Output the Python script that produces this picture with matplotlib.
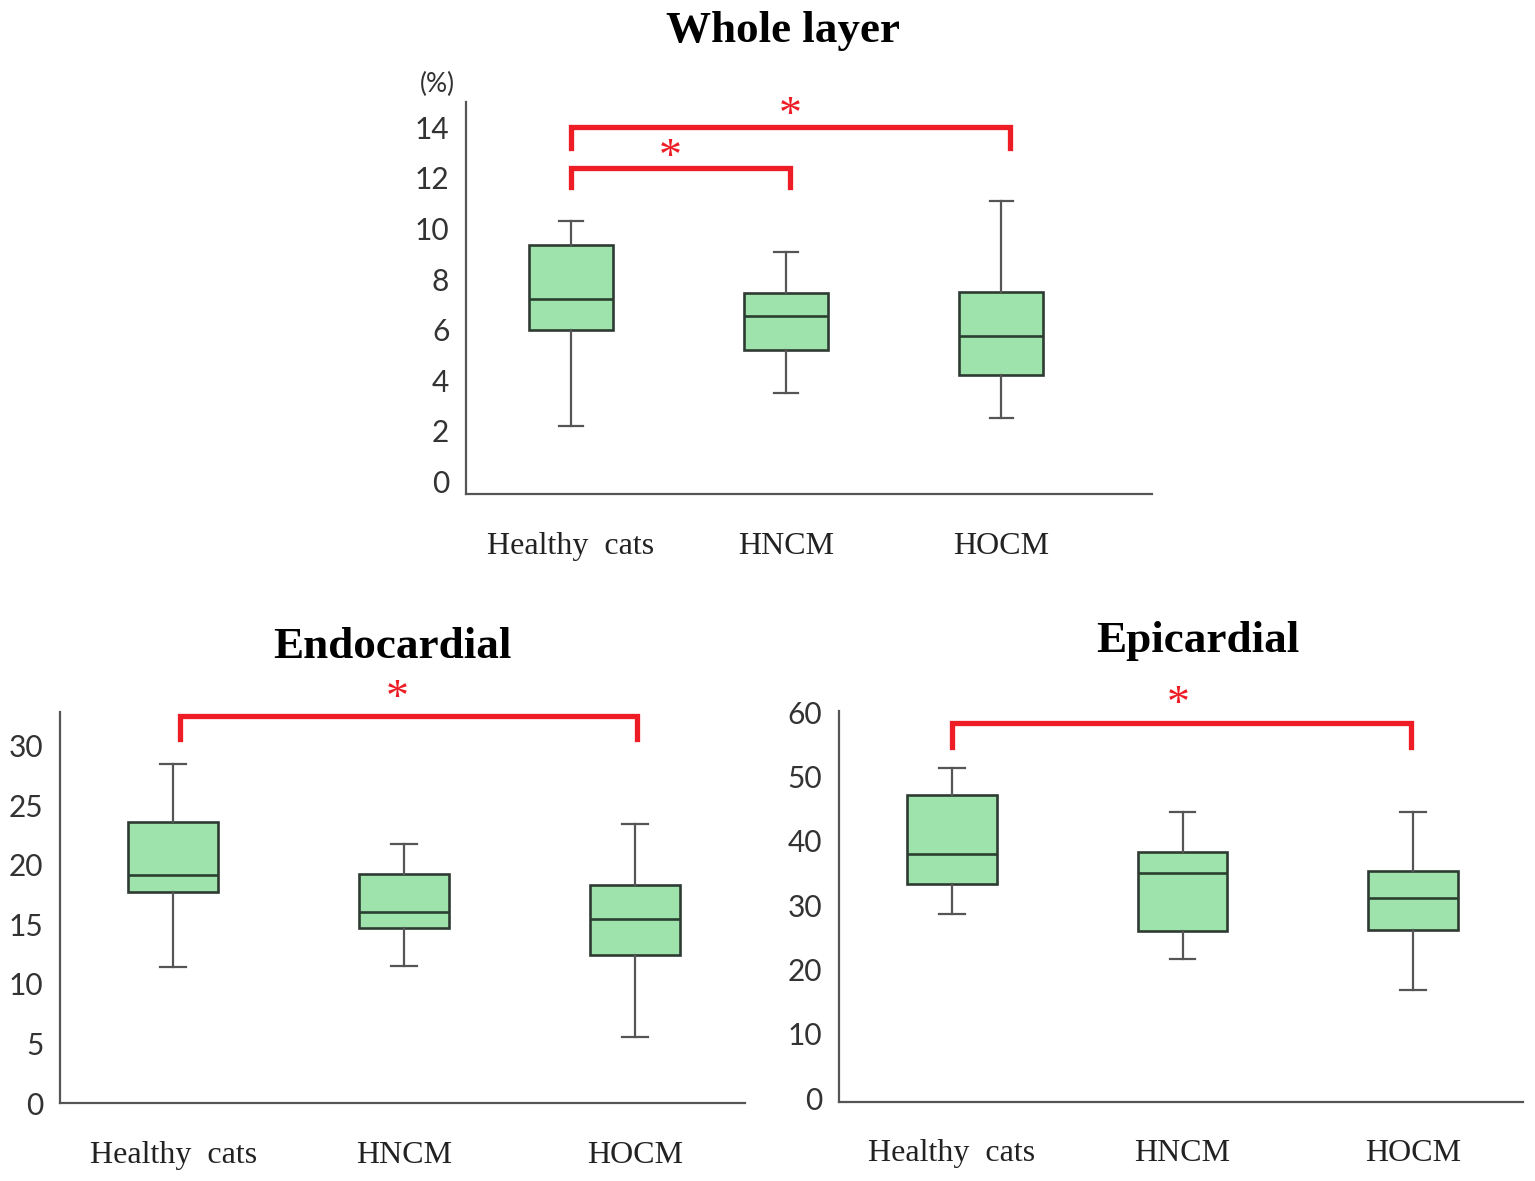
import numpy as np
import matplotlib.pyplot as plt

# group names
groups = ['Healthy  cats', 'HNCM', 'HOCM']

# box stats per panel: whisker low, Q1, median, Q3, whisker high
whole_low = [2.2, 3.5, 2.5]
whole_q1 = [6.0, 5.2, 4.2]
whole_med = [7.2, 6.55, 5.75]
whole_q3 = [9.33, 7.46, 7.5]
whole_high = [10.3, 9.06, 11.08]

endo_low = [11.4, 11.5, 5.5]
endo_q1 = [17.7, 14.7, 12.4]
endo_med = [19.1, 16.0, 15.4]
endo_q3 = [23.6, 19.2, 18.3]
endo_high = [28.4, 21.7, 23.4]

epi_low = [28.6, 21.6, 16.8]
epi_q1 = [33.3, 26.0, 26.1]
epi_med = [37.9, 35.0, 31.1]
epi_q3 = [47.1, 38.3, 35.3]
epi_high = [51.3, 44.5, 44.5]

whole_ticks = [0, 2, 4, 6, 8, 10, 12, 14]
endo_ticks = [0, 5, 10, 15, 20, 25, 30]
epi_ticks = [0, 10, 20, 30, 40, 50, 60]

# significance brackets: (x_left, x_right, top, leg, star_x, star_y)
whole_brackets = [(0.0, 2.04, 14.0, 13.2, 1.02, 14.42),
                  (0.0, 1.02, 12.4, 11.65, 0.46, 12.75)]
endo_brackets = [(0.03, 2.01, 32.5, 30.5, 0.97, 33.85)]
epi_brackets = [(0.0, 1.99, 58.3, 54.6, 0.98, 61.0)]

red = '#ee1c24'
green = '#9ee3ab'
tickfont = 'Lato'
serif = 'Liberation Serif'


def draw_panel(ax, low, q1, med, q3, high, ticks, ylim, xlim, brackets):
    stats = []
    for i in range(len(groups)):
        stats.append({'whislo': low[i], 'q1': q1[i], 'med': med[i],
                      'q3': q3[i], 'whishi': high[i], 'fliers': []})
    ax.bxp(stats, positions=range(len(groups)), widths=0.39, capwidths=0.11,
           patch_artist=True, showfliers=False,
           boxprops=dict(facecolor=green, edgecolor='#2e3b33', linewidth=1.9),
           medianprops=dict(color='#2a3f30', linewidth=1.9),
           whiskerprops=dict(color='#555555', linewidth=1.6),
           capprops=dict(color='#555555', linewidth=1.6))
    ax.set_ylim(ylim)
    ax.set_xlim(xlim)
    ax.set_yticks(ticks)
    ax.set_yticklabels([str(t) for t in ticks], fontsize=21.5,
                       family=tickfont, color='#333333')
    ax.set_xticks(range(len(groups)))
    ax.set_xticklabels(groups, fontsize=23, family=serif, color='#222222')
    ax.tick_params(axis='y', length=0, pad=12)
    ax.tick_params(axis='x', length=0, pad=27)
    for s in ['top', 'right']:
        ax.spines[s].set_visible(False)
    for s in ['left', 'bottom']:
        ax.spines[s].set_color('#555555')
        ax.spines[s].set_linewidth(1.6)
    for x0, x1, top, leg, sx, sy in brackets:
        ax.plot([x0, x0, x1, x1], [leg, top, top, leg], color=red,
                linewidth=3.8, clip_on=False, solid_joinstyle='miter')
        ax.text(sx, sy, '*', color=red, fontsize=33, family=serif,
                ha='center', va='center')


fig = plt.figure(figsize=(15.35, 11.81), dpi=100)

ax1 = fig.add_axes([0.3036, 0.5817, 0.4469, 0.3319])
draw_panel(ax1, whole_low, whole_q1, whole_med, whole_q3, whole_high,
           whole_ticks, (-0.5, 15.0), (-0.487, 2.70), whole_brackets)
ax1.text(-0.041, 1.046, '(%)', transform=ax1.transAxes, fontsize=19,
         family=tickfont, color='#333333', ha='center', va='center')

ax2 = fig.add_axes([0.0391, 0.0660, 0.4463, 0.3311])
draw_panel(ax2, endo_low, endo_q1, endo_med, endo_q3, endo_high,
           endo_ticks, (0, 32.8), (-0.49, 2.476), endo_brackets)

ax3 = fig.add_axes([0.5466, 0.0669, 0.4456, 0.3311])
draw_panel(ax3, epi_low, epi_q1, epi_med, epi_q3, epi_high,
           epi_ticks, (-0.6, 60.2), (-0.49, 2.477), epi_brackets)

fig.text(0.510, 0.974, 'Whole layer', fontsize=32.5, fontweight='bold',
         family=serif, ha='center', va='center')
fig.text(0.2554, 0.4525, 'Endocardial', fontsize=32.5, fontweight='bold',
         family=serif, ha='center', va='center')
fig.text(0.7805, 0.457, 'Epicardial', fontsize=32.5, fontweight='bold',
         family=serif, ha='center', va='center')

fig.savefig('out.png', dpi=100)
